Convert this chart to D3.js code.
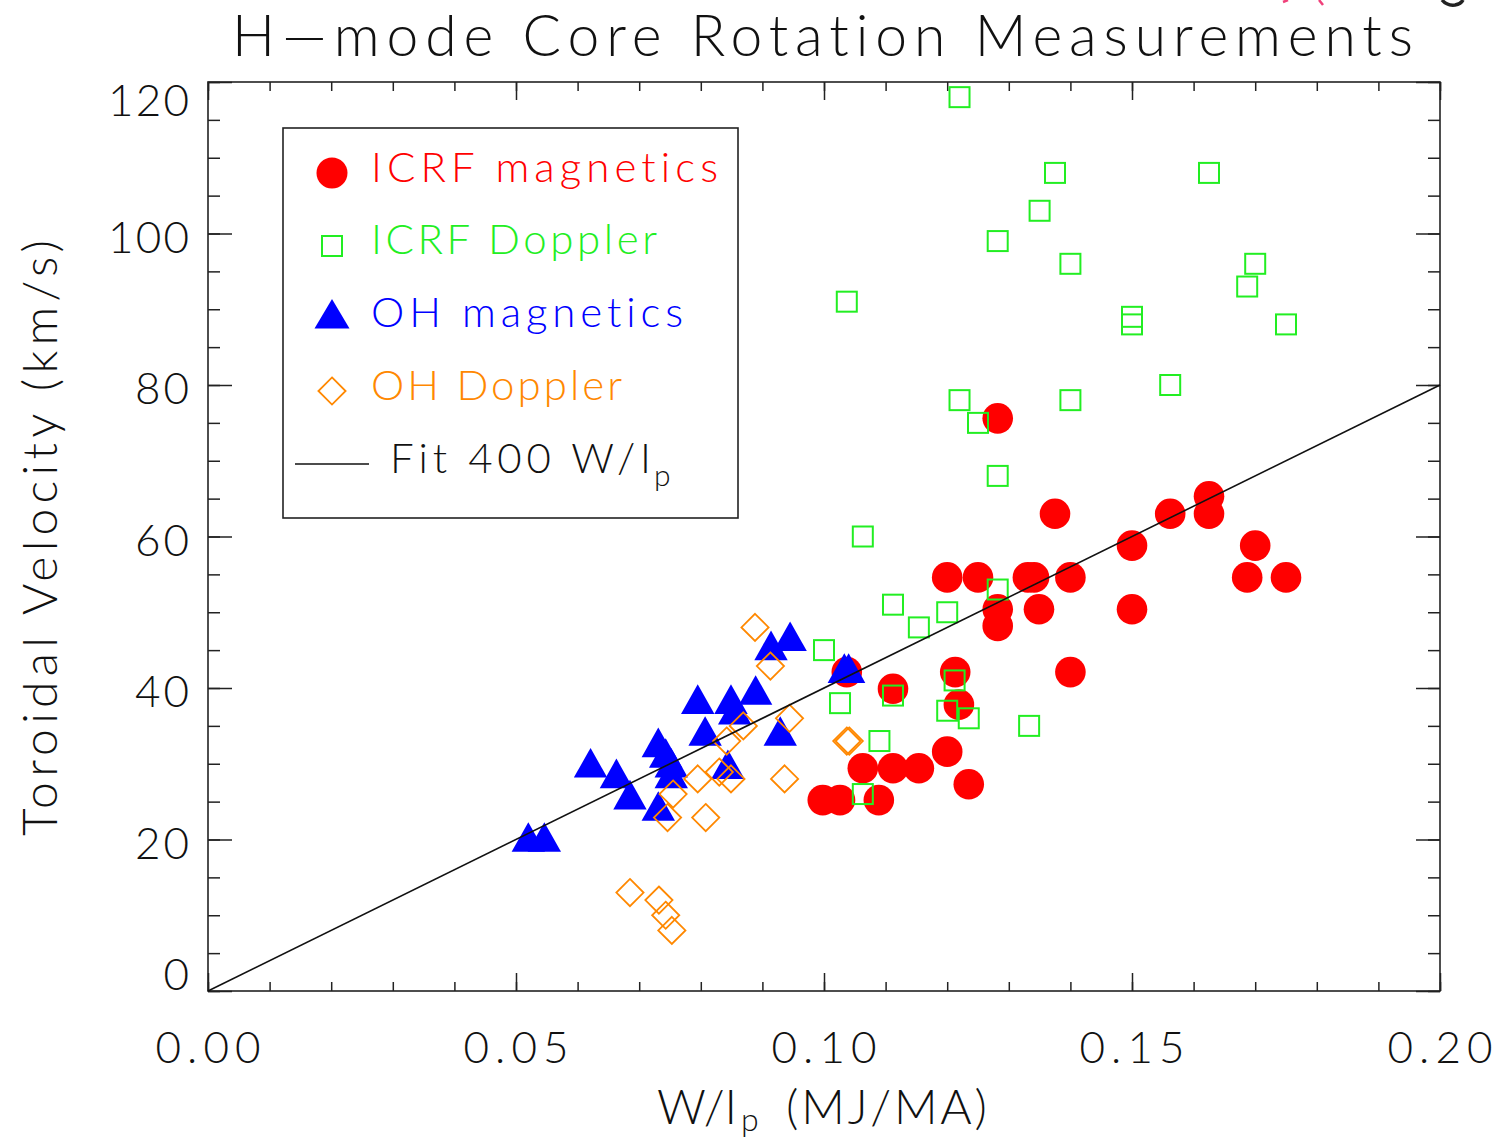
<!DOCTYPE html>
<html>
<head>
<meta charset="utf-8">
<script src="https://cdn.jsdelivr.net/npm/d3@7"></script>
<style>
  html, body { margin: 0; padding: 0; background: #ffffff; }
  svg { display: block; }
  text { font-family: "Lato", "Open Sans", sans-serif; font-weight: 300;
         font-variant-ligatures: none; font-feature-settings: "liga" 0, "clig" 0; }
</style>
</head>
<body>
<svg id="chart" width="1511" height="1139"></svg>
<script>
// ---------------- data ----------------
const titleText = "H\u2014mode Core Rotation Measurements";
const xTickValues = [0, 0.05, 0.10, 0.15, 0.20];
const xTickLabels = ["0.00", "0.05", "0.10", "0.15", "0.20"];
const yTickValues = [0, 20, 40, 60, 80, 100, 120];
const yTickLabels = ["0", "20", "40", "60", "80", "100", "120"];
const seriesNames = ["ICRF magnetics", "ICRF Doppler", "OH magnetics", "OH Doppler"];
const fitSlope = 400;

// ICRF magnetics (filled circles)
const icrfMagX = [0.1282, 0.1375, 0.1562, 0.1625, 0.1625, 0.1500, 0.1700, 0.1200, 0.1250, 0.1331, 0.1341,
  0.1400, 0.1687, 0.1750, 0.1282, 0.1349, 0.1500, 0.1282, 0.1037, 0.1213, 0.1400, 0.1112, 0.1219,
  0.1200, 0.1063, 0.1112, 0.1154, 0.1235, 0.0998, 0.1026, 0.1089];
const icrfMagY = [75.6, 63.0, 63.0, 65.3, 63.0, 58.8, 58.8, 54.6, 54.6, 54.6, 54.6,
  54.6, 54.6, 54.6, 50.4, 50.4, 50.4, 48.2, 42.1, 42.1, 42.1, 39.9, 37.8,
  31.6, 29.4, 29.4, 29.4, 27.3, 25.2, 25.2, 25.2];

// ICRF Doppler (open squares)
const icrfDopX = [0.1220, 0.1375, 0.1625, 0.1350, 0.1282, 0.1400, 0.1700, 0.1037, 0.1687, 0.1500, 0.1500,
  0.1750, 0.1562, 0.1220, 0.1400, 0.1250, 0.1282, 0.1063, 0.1282, 0.1112, 0.1200, 0.1154, 0.1000,
  0.1212, 0.1026, 0.1112, 0.1200, 0.1235, 0.1333, 0.1090, 0.1063];
const icrfDopY = [118.0, 108.0, 108.0, 103.0, 99.0, 96.0, 96.0, 91.0, 93.0, 89.0, 88.0,
  88.0, 80.0, 78.0, 78.0, 75.0, 68.0, 60.0, 53.0, 51.0, 50.0, 48.0, 45.0,
  41.0, 38.0, 39.0, 37.0, 36.0, 35.0, 33.0, 26.0];

// OH magnetics (filled triangles)
const ohMagX = [0.0520, 0.0546, 0.0621, 0.0663, 0.0685, 0.0731, 0.0731, 0.0743, 0.0752, 0.0752,
  0.0795, 0.0807, 0.0855, 0.0849, 0.0889, 0.0914, 0.0945, 0.0929, 0.0844, 0.1033, 0.1040];
const ohMagY = [20.3, 20.3, 30.1, 28.7, 25.9, 24.4, 32.8, 31.4, 30.1, 28.7,
  38.5, 34.3, 37.1, 38.5, 39.7, 45.6, 46.8, 34.3, 29.9, 42.6, 42.6];

// OH Doppler (open diamonds)
const ohDopX = [0.0888, 0.0913, 0.0944, 0.0869, 0.0842, 0.1037, 0.1041, 0.0830, 0.0849, 0.0795,
  0.0936, 0.0755, 0.0746, 0.0808, 0.0685, 0.0732, 0.0743, 0.0753];
const ohDopY = [48.0, 42.9, 36.0, 35.0, 33.0, 33.0, 33.0, 28.9, 28.0, 28.0,
  28.0, 26.0, 22.9, 22.9, 13.0, 12.0, 10.0, 8.0];

// ---------------- drawing ----------------
const svg = d3.select("#chart");
const L = 208, R = 1440, T = 82, B = 991;
const x = d3.scaleLinear().domain([0, 0.2]).range([L, R]);
const y = d3.scaleLinear().domain([0, 120]).range([B, T]);

const colRed = "#ff0000", colGreen = "#22ee22", colBlue = "#0000ff", colOrange = "#ff8800";

svg.append("rect").attr("width", 1511).attr("height", 1139).attr("fill", "#fff");

// logo fragments at top right (cut off by the picture edge)
svg.append("path").attr("d", "M1442,0 Q1447,6 1455,5 Q1461,4 1463,0")
  .attr("fill", "none").attr("stroke", "#222").attr("stroke-width", 3.5);
svg.append("path").attr("d", "M1283,2 L1288,0").attr("stroke", "#f0407a").attr("stroke-width", 2.5);
svg.append("path").attr("d", "M1319,0 L1323,5").attr("stroke", "#f0407a").attr("stroke-width", 2.5);

// title
svg.append("text").attr("x", 232).attr("y", 56).attr("font-size", 57)
  .attr("textLength", 1181).attr("lengthAdjust", "spacing")
  .attr("fill", "#111").text(titleText);

// axes ticks (inward, IDL style)
const xMinor = d3.range(0, 0.2001, 0.01);
const yMinor = d3.range(0, 120.01, 5);
function tickAxis(axisFn, scale, values, size, transform) {
  const g = svg.append("g").attr("transform", transform)
    .call(axisFn(scale).tickValues(values).tickSizeInner(size).tickSizeOuter(0).tickFormat(""));
  g.select(".domain").remove();
  g.selectAll(".tick line").attr("stroke", "#222").attr("stroke-width", 1.5);
  return g;
}
tickAxis(d3.axisBottom, x, xMinor, -9, `translate(0,${B})`);
tickAxis(d3.axisBottom, x, xTickValues, -18, `translate(0,${B})`);
tickAxis(d3.axisTop, x, xMinor, -9, `translate(0,${T})`);
tickAxis(d3.axisTop, x, xTickValues, -18, `translate(0,${T})`);
tickAxis(d3.axisLeft, y, yMinor, -12, `translate(${L},0)`);
tickAxis(d3.axisLeft, y, yTickValues, -24, `translate(${L},0)`);
tickAxis(d3.axisRight, y, yMinor, -12, `translate(${R},0)`);
tickAxis(d3.axisRight, y, yTickValues, -24, `translate(${R},0)`);

svg.append("rect").attr("x", L).attr("y", T).attr("width", R - L).attr("height", B - T)
  .attr("fill", "none").attr("stroke", "#222").attr("stroke-width", 1.6);

// tick labels
const charW = 26.3;
svg.append("g").selectAll("text").data(xTickValues).join("text")
  .attr("x", d => x(d)).attr("y", 1063).attr("text-anchor", "middle")
  .attr("font-size", 44).attr("fill", "#111")
  .attr("textLength", (d, i) => xTickLabels[i].length * charW).attr("lengthAdjust", "spacing")
  .text((d, i) => xTickLabels[i]);
svg.append("g").selectAll("text").data(yTickValues).join("text")
  .attr("x", 189).attr("y", d => Math.max(T + 34, Math.min(B - 1, y(d) + 19)))
  .attr("text-anchor", "end").attr("font-size", 44).attr("fill", "#111")
  .attr("textLength", (d, i) => yTickLabels[i].length * 27).attr("lengthAdjust", "spacing")
  .text((d, i) => yTickLabels[i]);

// axis titles
svg.append("text").attr("x", 657).attr("y", 1124).attr("font-size", 48).attr("fill", "#111")
  .attr("textLength", 80).attr("lengthAdjust", "spacing").text("W/I");
svg.append("text").attr("x", 741).attr("y", 1131).attr("font-size", 32).attr("fill", "#111").text("p");
svg.append("text").attr("x", 786).attr("y", 1124).attr("font-size", 48).attr("fill", "#111")
  .attr("textLength", 201).attr("lengthAdjust", "spacing").text("(MJ/MA)");
svg.append("text").attr("transform", "translate(57,836) rotate(-90)")
  .attr("font-size", 48).attr("fill", "#111")
  .attr("textLength", 596).attr("lengthAdjust", "spacing").text("Toroidal Velocity (km/s)");

// symbol path generators
const triPath = (cx, cy) => `M${cx},${cy - 15}L${cx + 16.7},${cy + 14.6}L${cx - 16.7},${cy + 14.6}Z`;
const diaPath = (cx, cy) => `M${cx},${cy - 13.6}L${cx + 13.6},${cy}L${cx},${cy + 13.6}L${cx - 13.6},${cy}Z`;

const plot = svg.append("g");
// ICRF magnetics
plot.append("g").selectAll("circle").data(d3.zip(icrfMagX, icrfMagY)).join("circle")
  .attr("cx", d => x(d[0])).attr("cy", d => y(d[1])).attr("r", 15.3).attr("fill", colRed);
// ICRF Doppler
plot.append("g").selectAll("rect").data(d3.zip(icrfDopX, icrfDopY)).join("rect")
  .attr("x", d => x(d[0]) - 10).attr("y", d => y(d[1]) - 10).attr("width", 20).attr("height", 20)
  .attr("fill", "none").attr("stroke", colGreen).attr("stroke-width", 2);
// OH magnetics
plot.append("g").selectAll("path").data(d3.zip(ohMagX, ohMagY)).join("path")
  .attr("d", d => triPath(x(d[0]), y(d[1]))).attr("fill", colBlue);
// OH Doppler
plot.append("g").selectAll("path").data(d3.zip(ohDopX, ohDopY)).join("path")
  .attr("d", d => diaPath(x(d[0]), y(d[1])))
  .attr("fill", "none").attr("stroke", colOrange).attr("stroke-width", 1.8);
// fit line
plot.append("path").datum([0, 0.2])
  .attr("d", d3.line().x(d => x(d)).y(d => y(fitSlope * d)))
  .attr("stroke", "#111").attr("stroke-width", 1.6).attr("fill", "none");

// legend
const lg = svg.append("g");
lg.append("rect").attr("x", 283).attr("y", 128).attr("width", 455).attr("height", 390)
  .attr("fill", "#fff").attr("stroke", "#222").attr("stroke-width", 1.6);
lg.append("circle").attr("cx", 332).attr("cy", 173).attr("r", 15.5).attr("fill", colRed);
lg.append("rect").attr("x", 322).attr("y", 236).attr("width", 20).attr("height", 20)
  .attr("fill", "none").attr("stroke", colGreen).attr("stroke-width", 2);
lg.append("path").attr("d", `M332,299L349.5,328.5L314.5,328.5Z`).attr("fill", colBlue);
lg.append("path").attr("d", diaPath(332, 391)).attr("fill", "none")
  .attr("stroke", colOrange).attr("stroke-width", 1.8);
lg.append("line").attr("x1", 295).attr("x2", 369).attr("y1", 464).attr("y2", 464)
  .attr("stroke", "#111").attr("stroke-width", 1.6);

const legendCols = [colRed, colGreen, colBlue, colOrange];
const legendBase = [182, 254, 327, 400];
const legendLen = [347, 286, 312, 251];
lg.append("g").selectAll("text").data(seriesNames).join("text")
  .attr("x", 371).attr("y", (d, i) => legendBase[i]).attr("font-size", 42)
  .attr("fill", (d, i) => legendCols[i])
  .attr("textLength", (d, i) => legendLen[i]).attr("lengthAdjust", "spacing")
  .text(d => d);
lg.append("text").attr("x", 390).attr("y", 473).attr("font-size", 42).attr("fill", "#111")
  .attr("textLength", 261).attr("lengthAdjust", "spacing").text("Fit " + fitSlope + " W/I");
lg.append("text").attr("x", 654).attr("y", 486).attr("font-size", 30).attr("fill", "#111").text("p");
</script>
</body>
</html>
